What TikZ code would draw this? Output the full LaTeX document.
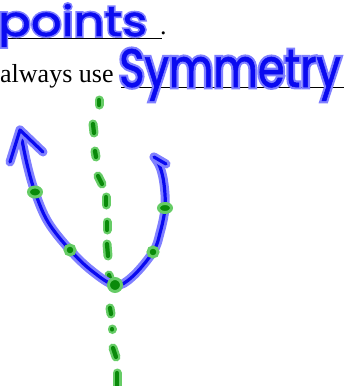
\documentclass[tikz,border=0pt]{standalone}
\usepackage{fontspec}
\setmainfont{Liberation Serif}
\newfontfamily\hwglow[FakeBold=9,FakeStretch=1.15]{Poppins}
\newfontfamily\hwink[FakeBold=1,FakeStretch=1.15]{Poppins}
\newfontfamily\hwglowB[FakeBold=9,FakeStretch=0.8]{Poppins}
\newfontfamily\hwinkB[FakeBold=1,FakeStretch=0.8]{Poppins}
\definecolor{inkblue}{HTML}{0A0AF0}
\definecolor{glowblue}{HTML}{8080FF}
\definecolor{inkgreen}{HTML}{0A8A0A}
\definecolor{glowgreen}{HTML}{66CC66}
\tikzset{
  bstroke/.style={draw=inkblue, line width=3.2pt, line cap=round, line join=round,
    preaction={draw=glowblue, line width=9pt, line cap=round, line join=round}},
  gstroke/.style={draw=inkgreen, line width=4.2pt, line cap=round,
    preaction={draw=glowgreen, line width=9pt, line cap=round}},
  gdot/.style={fill=inkgreen, draw=glowgreen, line width=3pt},
  printed/.style={font=\fontsize{26}{30}\selectfont, anchor=base west, inner sep=0pt, text=black},
  rule/.style={draw=black, line width=1pt}
}
\begin{document}
\begin{tikzpicture}[x=1pt,y=-1pt]
\useasboundingbox (0,0) rectangle (344,386);
% printed text and blanks
\node[printed] (always) at (0,82) {always use};
\coordinate (u1a) at (0,38); \coordinate (u1b) at (162,38);
\draw[rule] (u1a) -- (u1b);
\node[printed] (dot) at (160,34) {.};
\coordinate (u2a) at (121,87); \coordinate (u2b) at (344,87);
\draw[rule] (u2a) -- (u2b);
% handwritten words
\node[anchor=base west, inner sep=0pt, text=glowblue, font=\hwglow\fontsize{42}{44}\selectfont] (pointsG) at (-2,36) {points};
\node[anchor=base west, inner sep=0pt, text=inkblue, font=\hwink\fontsize{42}{44}\selectfont] (points) at (-2,36) {points};
\node[anchor=base west, inner sep=0pt, text=glowblue, font=\hwglowB\fontsize{54}{56}\selectfont] (symG) at (119,87) {Symmetry};
\node[anchor=base west, inner sep=0pt, text=inkblue, font=\hwinkB\fontsize{54}{56}\selectfont] (sym) at (119,87) {Symmetry};
% parabola points
\coordinate (p1) at (35,192);
\coordinate (p2) at (70,250);
\coordinate (v) at (115,285);
\coordinate (p4) at (153,252);
\coordinate (p5) at (165,208);
\coordinate (ltip) at (20,130);
\coordinate (rtip) at (154,157);
% green axis dashes
\draw[gstroke] (99,100) -- (99,105);
\draw[gstroke] (93,124) -- (94,133);
\draw[gstroke] (95,151) -- (96,157);
\draw[gstroke] (98,176) -- (102,184);
\draw[gstroke] (106,197) -- (106,205);
\draw[gstroke] (107,222) -- (107,230);
\draw[gstroke] (107,244) -- (108,256);
\draw[gstroke] (109,275) -- (111,282);
\draw[gstroke] (110,308) -- (111,314);
\draw[gstroke] (112,329) -- (112,329.5);
\draw[gstroke] (113,348) -- (116,357);
\draw[gstroke] (117,373) -- (117,386);
% blue parabola
\draw[bstroke] plot[smooth, tension=0.6] coordinates {(ltip) (27,164) (p1) (48,222) (p2) (92,271) (v) (132,277) (p4) (160,233) (p5) (164,184) (160,167) (rtip)};
\draw[bstroke] (10,162) -- (ltip) -- (43,152);
\draw[bstroke] (rtip) -- (166,164);
% green dots
\fill[gdot] (p1) ellipse (6.5pt and 5pt);
\fill[gdot] (p2) circle (5pt);
\fill[gdot] (v) circle (6.5pt);
\fill[gdot] (p4) circle (5pt);
\fill[gdot] (p5) ellipse (6.5pt and 4.5pt);
\end{tikzpicture}
\end{document}
